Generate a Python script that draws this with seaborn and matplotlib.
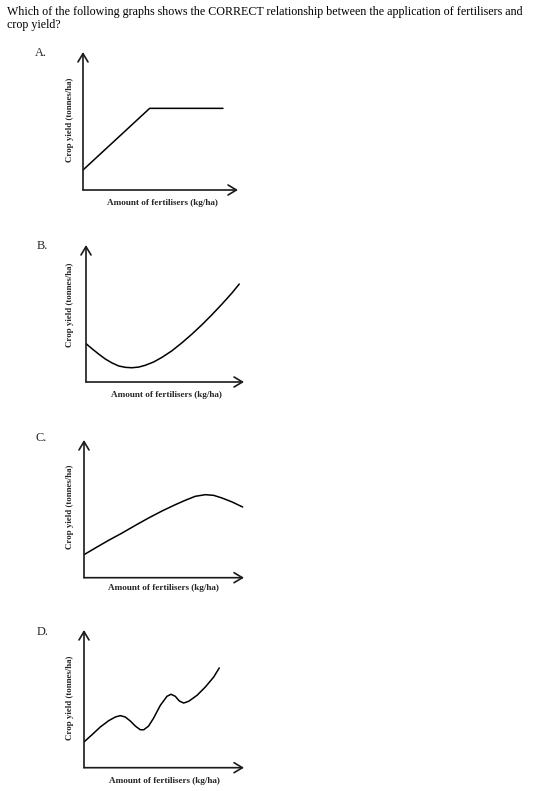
import matplotlib
matplotlib.use("Agg")
import matplotlib.pyplot as plt
import seaborn as sns
import pandas as pd

sns.set_theme(style="white")
plt.rcParams['font.family'] = ['Liberation Serif', 'DejaVu Serif']

# ---- data (arbitrary 0-10 units) ----
question = ("Which of the following graphs shows the CORRECT relationship between the application of fertilisers and\n"
            "crop yield?")
option_labels = ["A.", "B.", "C.", "D."]
y_label = "Crop yield (tonnes/ha)"
x_label = "Amount of fertilisers (kg/ha)"

a_x = [0, 4.22, 8.86]
a_y = [1.46, 5.96, 5.96]

b_x = [0, 0.38, 0.80, 1.22, 1.65, 2.07, 2.49, 2.91, 3.34, 3.75, 4.28, 4.81, 5.44,
       6.08, 6.71, 7.34, 7.97, 8.61, 9.24, 9.70]
b_y = [2.80, 2.43, 2.04, 1.68, 1.39, 1.17, 1.07, 1.04, 1.09, 1.22, 1.46, 1.80, 2.28,
       2.87, 3.50, 4.18, 4.91, 5.69, 6.50, 7.15]

c_x = [0, 0.72, 1.56, 2.41, 3.25, 4.09, 4.94, 5.78, 6.41, 7.04, 7.68, 8.21, 8.73, 9.37, 10.04]
c_y = [1.68, 2.17, 2.73, 3.26, 3.82, 4.36, 4.87, 5.33, 5.65, 5.94, 6.06, 6.01, 5.82, 5.53, 5.16]

d_x = [0, 0.51, 1.03, 1.56, 1.98, 2.30, 2.61, 2.93, 3.25, 3.56, 3.78, 4.09, 4.41, 4.83,
       5.25, 5.51, 5.78, 6.03, 6.31, 6.63, 7.15, 7.68, 8.21, 8.56]
d_y = [1.88, 2.41, 2.97, 3.43, 3.70, 3.80, 3.70, 3.41, 3.04, 2.77, 2.77, 3.04, 3.63, 4.55,
       5.21, 5.36, 5.21, 4.87, 4.72, 4.85, 5.28, 5.89, 6.62, 7.28]

curves = [(a_x, a_y), (b_x, b_y), (c_x, c_y), (d_x, d_y)]

# ---- layout (pixels) ----
W, H = 536, 791
fig = plt.figure(figsize=(W / 100, H / 100), dpi=100)
fig.patch.set_facecolor("white")

def fx(px):
    return px / W

def fy(py):
    return 1 - py / H

# left, right, top, bottom of each axes in pixels
boxes = [(83, 238, 52, 190), (86, 244, 245, 382), (84, 244, 440, 577.7), (84, 244, 630, 767.7)]
label_pos = [(35, 53), (37, 246), (35, 438), (37, 632)]
ylab_pos = [(70, 120), (70, 305), (70, 507), (70, 698)]
xlab_pos = [(162, 203), (166, 395), (163, 588), (164, 781)]

fig.text(fx(7), fy(6), question, ha="left", va="top", fontsize=8.65,
         linespacing=1.1, color="black")

for i, ((l, r, t, b), (xs, ys)) in enumerate(zip(boxes, curves)):
    ax = fig.add_axes([fx(l), fy(b), (r - l) / W, (b - t) / H])
    ax.set_xlim(0, (r - l) / 15.8)
    ax.set_ylim(0, (b - t) / 13.7)
    df = pd.DataFrame({"x": xs, "y": ys})
    sns.lineplot(data=df, x="x", y="y", ax=ax, color="black", lw=1.1,
                 estimator=None, sort=False, solid_joinstyle="round")
    for s in ax.spines.values():
        s.set_visible(False)
    ax.set_xticks([])
    ax.set_yticks([])
    ax.set_xlabel("")
    ax.set_ylabel("")
    ax.patch.set_alpha(0)
    style = "->,head_length=0.5,head_width=0.3"
    for end in [(1, 0), (0, 1)]:
        ax.annotate("", xy=end, xytext=(0, 0), xycoords="axes fraction",
                    arrowprops=dict(arrowstyle=style, lw=1.2, color="#1a1a1a",
                                    shrinkA=0, shrinkB=0), annotation_clip=False)

    lx, ly = label_pos[i]
    fig.text(fx(lx), fy(ly), option_labels[i], ha="left", va="center", fontsize=8.8)
    yx, yy = ylab_pos[i]
    fig.text(fx(yx), fy(yy), y_label, ha="center", va="center", rotation=90,
             fontsize=6.4, fontweight="bold")
    xx, xy_ = xlab_pos[i]
    fig.text(fx(xx), fy(xy_), x_label, ha="center", va="center",
             fontsize=6.6, fontweight="bold")

fig.savefig("out.png", dpi=100, facecolor="white")
